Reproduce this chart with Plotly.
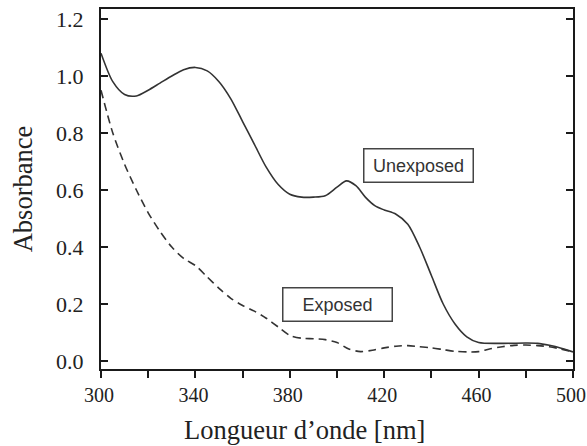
import plotly.graph_objects as go

wavelength_unexposed = [300, 305, 310, 315, 320, 325, 330, 335, 340, 345, 350, 355, 360, 365, 370, 375,
                        380, 385, 390, 395, 400, 404, 408, 412, 416, 420, 425, 430, 435, 440, 445, 450,
                        455, 460, 470, 480, 485, 490, 495, 500]
absorbance_unexposed = [1.08, 0.98, 0.935, 0.93, 0.95, 0.975, 1.00, 1.022, 1.03, 1.018, 0.98, 0.92, 0.84,
                        0.76, 0.68, 0.62, 0.585, 0.575, 0.575, 0.58, 0.61, 0.632, 0.615, 0.575, 0.545,
                        0.53, 0.515, 0.48, 0.40, 0.30, 0.20, 0.13, 0.085, 0.065, 0.062, 0.063, 0.062,
                        0.055, 0.045, 0.032]

wavelength_exposed = [300, 305, 310, 315, 320, 325, 330, 335, 340, 345, 350, 355, 360, 365, 370, 375,
                      380, 385, 390, 395, 400, 405, 410, 415, 420, 425, 430, 435, 440, 445, 450, 455,
                      460, 465, 470, 475, 480, 485, 490, 495, 500]
absorbance_exposed = [0.95, 0.80, 0.69, 0.60, 0.52, 0.455, 0.40, 0.36, 0.335, 0.295, 0.255, 0.22, 0.195,
                      0.175, 0.15, 0.12, 0.09, 0.08, 0.078, 0.075, 0.065, 0.042, 0.033, 0.038, 0.046,
                      0.052, 0.054, 0.05, 0.046, 0.04, 0.034, 0.032, 0.033, 0.043, 0.05, 0.055, 0.056,
                      0.054, 0.05, 0.042, 0.032]

x_ticks = [300, 340, 380, 420, 460, 500]
x_tick_labels = ["300", "340", "380", "420", "460", "500"]
y_ticks = [0.0, 0.2, 0.4, 0.6, 0.8, 1.0, 1.2]
y_tick_labels = ["0.0", "0.2", "0.4", "0.6", "0.8", "1.0", "1.2"]

labels = ["Unexposed", "Exposed"]
label_x = [434.7, 400.4]
label_y = [0.685, 0.20]

x_title = "Longueur d\u2019onde [nm]"
y_title = "Absorbance"

line_color = "#333333"
serif = "Liberation Serif, Times New Roman, serif"
sans = "Liberation Sans, Arial, sans-serif"

fig = go.Figure()
fig.add_trace(go.Scatter(x=wavelength_unexposed, y=absorbance_unexposed, mode="lines",
                         line=dict(color=line_color, width=1.6, shape="spline", smoothing=0.8),
                         showlegend=False))
fig.add_trace(go.Scatter(x=wavelength_exposed, y=absorbance_exposed, mode="lines",
                         line=dict(color=line_color, width=1.6, shape="spline", smoothing=0.8,
                                   dash="8px,5px"),
                         showlegend=False))

for t, x, y in zip(labels, label_x, label_y):
    fig.add_annotation(x=x, y=y, text=t, showarrow=False,
                       font=dict(family=sans, size=18, color="#333333"),
                       bordercolor="#444444", borderwidth=1.5, borderpad=4,
                       width=100, height=24, bgcolor="white")

# x-axis title placed as paper annotation (offset left like the reference)
fig.add_annotation(xref="paper", yref="paper", x=0.432, y=0, yshift=-44,
                   xanchor="center", yanchor="top", showarrow=False, text=x_title,
                   font=dict(family=serif, size=26.5, color="#222222"))

fig.update_layout(
    width=587, height=446,
    margin=dict(l=101, r=14, t=9, b=77),
    paper_bgcolor="white", plot_bgcolor="white",
    xaxis=dict(range=[300, 500], tickvals=x_ticks, ticktext=x_tick_labels,
               showgrid=False, zeroline=False, automargin=False,
               showline=True, linewidth=2, linecolor="#1a1a1a", mirror=True,
               ticks="outside", ticklen=7, tickwidth=2, tickcolor="#1a1a1a",
               minor=dict(dtick=20, tick0=300, ticks="outside", ticklen=7, tickwidth=2,
                          tickcolor="#1a1a1a", showgrid=False),
               ticklabeloverflow="allow", ticklabelshift=-2,
               tickfont=dict(family=serif, size=20, color="#222222")),
    yaxis=dict(range=[-0.028, 1.235], tickvals=y_ticks, ticktext=y_tick_labels,
               showgrid=False, zeroline=False, automargin=False,
               showline=True, linewidth=2, linecolor="#1a1a1a", mirror="ticks",
               ticks="inside", ticklen=7, tickwidth=2, tickcolor="#1a1a1a",
               ticklabelstandoff=11,
               tickfont=dict(family=serif, size=22, color="#222222"),
               title=dict(text=y_title, font=dict(family=serif, size=26.5, color="#222222"),
                          standoff=16)),
)

fig.write_html("out.html", config={"displayModeBar": False},
               post_script="document.body.style.margin='0px';")
